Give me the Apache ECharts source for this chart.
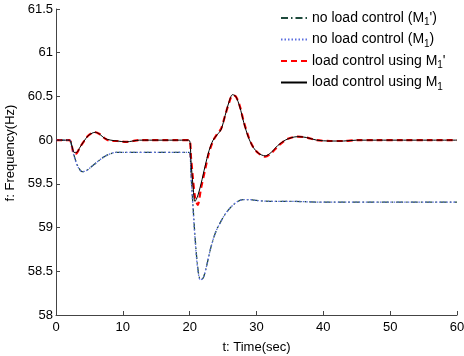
<!DOCTYPE html>
<html>
<head>
<meta charset="utf-8">
<script src="https://cdn.jsdelivr.net/npm/echarts@6/dist/echarts.min.js"></script>
<style>
  html, body { margin: 0; padding: 0; background: #fff; }
  #chart { width: 464px; height: 356px; }
</style>
</head>
<body>
<div id="chart"></div>
<script>
// time (sec)
var timeCtrl = [0, 2, 2.4, 2.7, 3.1, 3.6, 4.2, 4.8, 5.4, 5.9, 6.5, 7.3, 8.2, 9.2, 10.5, 11.5, 12.5, 14, 16, 18, 19.9, 20.2, 20.5, 20.8, 21.2, 21.7, 22.3, 22.9, 23.5, 24.1, 24.7, 25.3, 25.9, 26.4, 26.9, 27.5, 28.1, 28.8, 29.5, 30.3, 31.3, 32.2, 33.2, 34.3, 35.3, 36.2, 37.5, 39, 41, 43, 45, 48, 52, 56, 60];
// load control using M1
var ctrlM1 = [60, 60, 59.93, 59.86, 59.86, 59.92, 59.99, 60.05, 60.08, 60.09, 60.07, 60.02, 60.0, 59.99, 59.98, 59.99, 60.0, 60.0, 60.0, 60.0, 60.0, 59.75, 59.48, 59.3, 59.36, 59.5, 59.7, 59.88, 60.0, 60.06, 60.12, 60.28, 60.44, 60.52, 60.5, 60.38, 60.2, 60.03, 59.92, 59.85, 59.82, 59.86, 59.94, 60.0, 60.03, 60.04, 60.03, 60.0, 59.99, 59.99, 60.0, 60.0, 60.0, 60.0, 60.0];
// load control using M1'
var ctrlM1p = [60, 60, 59.92, 59.84, 59.85, 59.92, 59.99, 60.05, 60.08, 60.09, 60.07, 60.02, 59.99, 59.99, 59.98, 59.99, 60.0, 60.0, 60.0, 60.0, 60.0, 59.8, 59.55, 59.35, 59.26, 59.45, 59.66, 59.86, 59.99, 60.07, 60.13, 60.28, 60.43, 60.51, 60.5, 60.39, 60.21, 60.04, 59.92, 59.85, 59.81, 59.85, 59.93, 60.0, 60.03, 60.04, 60.03, 60.0, 59.99, 59.99, 60.0, 60.0, 60.0, 60.0, 60.0];

var timeNo = [0, 2, 2.4, 2.8, 3.3, 3.9, 4.5, 5.2, 6, 7, 8, 9, 10, 12, 14, 16, 18, 19.9, 20.2, 20.5, 20.8, 21.2, 21.6, 22, 22.5, 23, 23.5, 24, 24.6, 25.2, 26, 27, 28, 29, 30, 32, 35, 40, 45, 50, 55, 60];
// no load control (M1')
var noM1p = [60, 60, 59.92, 59.8, 59.7, 59.64, 59.65, 59.69, 59.74, 59.8, 59.84, 59.86, 59.86, 59.86, 59.86, 59.86, 59.86, 59.86, 59.6, 59.25, 58.9, 58.55, 58.41, 58.42, 58.55, 58.72, 58.86, 58.97, 59.06, 59.14, 59.22, 59.29, 59.32, 59.32, 59.31, 59.3, 59.3, 59.29, 59.29, 59.29, 59.29, 59.29];
// no load control (M1)
var noM1 = [60, 60, 59.91, 59.79, 59.69, 59.64, 59.65, 59.69, 59.74, 59.8, 59.84, 59.86, 59.86, 59.86, 59.86, 59.86, 59.86, 59.86, 59.58, 59.22, 58.87, 58.53, 58.4, 58.42, 58.55, 58.72, 58.86, 58.97, 59.06, 59.14, 59.22, 59.29, 59.32, 59.32, 59.31, 59.3, 59.3, 59.29, 59.29, 59.29, 59.29, 59.29];

var names = ["no load control (M1')", 'no load control (M1)', "load control using M1'", 'load control using M1'];
var labels = [
  "{a|no load control (M}{s|1}{a|')}",
  '{a|no load control (M}{s|1}{a|)}',
  "{a|load control using M}{s|1}{a|'}",
  '{a|load control using M}{s|1}'
];

function pairs(t, v) {
  return t.map(function (x, i) { return [x, v[i]]; });
}

var chart = echarts.init(document.getElementById('chart'));
var option = {
  animation: false,
  backgroundColor: '#fff',
  textStyle: { fontFamily: 'Liberation Sans, Arial, sans-serif' },
  grid: { left: 56, right: 7, top: 9, bottom: 41, outerBoundsMode: 'none', containLabel: false },
  legend: {
    data: names,
    orient: 'vertical',
    left: 280,
    top: 11,
    padding: 0,
    itemWidth: 26,
    itemHeight: 10,
    itemGap: 5,
    itemStyle: { opacity: 0 },
    formatter: function (name) { return labels[names.indexOf(name)]; },
    textStyle: {
      color: '#000',
      rich: {
        a: { fontSize: 14, color: '#000', lineHeight: 19, fontFamily: 'Liberation Sans, Arial' },
        s: { fontSize: 10, color: '#000', lineHeight: 19, verticalAlign: 'bottom', fontFamily: 'Liberation Sans, Arial' }
      }
    }
  },
  xAxis: {
    type: 'value',
    min: 0,
    max: 60,
    interval: 10,
    name: 't: Time(sec)',
    nameLocation: 'middle',
    nameGap: 26,
    nameTextStyle: { fontSize: 13, color: '#000' },
    axisLine: { lineStyle: { color: '#444' } },
    axisTick: { inside: true, length: 4, lineStyle: { color: '#444' } },
    axisLabel: { fontSize: 13, color: '#000', margin: 6 },
    splitLine: { show: false }
  },
  yAxis: {
    type: 'value',
    min: 58,
    max: 61.5,
    interval: 0.5,
    name: 'f: Frequency(Hz)',
    nameLocation: 'middle',
    nameGap: 35,
    nameTextStyle: { fontSize: 13, color: '#000', padding: [0, 0, 0, 18] },
    axisLine: { show: true, lineStyle: { color: '#444' } },
    axisTick: { show: true, inside: true, length: 4, lineStyle: { color: '#444' } },
    axisLabel: { fontSize: 13, color: '#000', margin: 3 },
    splitLine: { show: false }
  },
  series: [
    {
      name: names[0], type: 'line', smooth: 0.3, symbol: 'none',
      data: pairs(timeNo, noM1p),
      lineStyle: { color: '#1e4a3c', width: 1.3, type: [7, 3, 1.5, 3] },
      itemStyle: { color: '#1e4a3c' }, z: 2
    },
    {
      name: names[1], type: 'line', smooth: 0.3, symbol: 'none',
      data: pairs(timeNo, noM1),
      lineStyle: { color: '#5a6ee0', width: 1.3, type: [1.5, 2] },
      itemStyle: { color: '#5a6ee0' }, z: 3
    },
    {
      name: names[2], type: 'line', smooth: 0.3, symbol: 'none',
      data: pairs(timeCtrl, ctrlM1p),
      lineStyle: { color: '#ff0000', width: 2.2, type: [6, 4] },
      itemStyle: { color: '#ff0000' }, z: 2
    },
    {
      name: names[3], type: 'line', smooth: 0.3, symbol: 'none',
      data: pairs(timeCtrl, ctrlM1),
      lineStyle: { color: '#000', width: 1 },
      itemStyle: { color: '#000' }, z: 4
    }
  ]
};
chart.setOption(option);
</script>
</body>
</html>
